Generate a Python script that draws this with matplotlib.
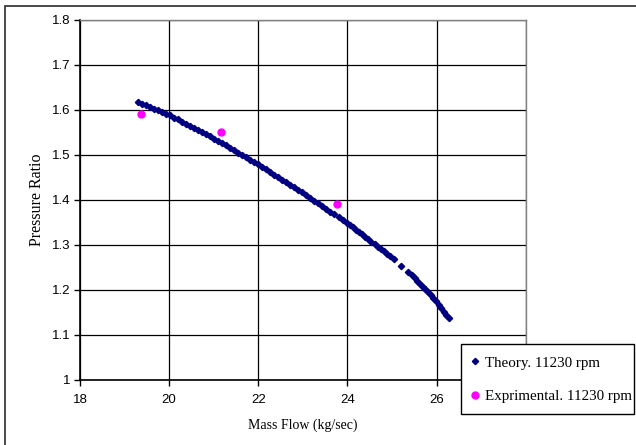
import matplotlib
matplotlib.use("Agg")
import matplotlib.pyplot as plt
from matplotlib.patches import Rectangle

# ---- data ----
theory_x = [19.30, 19.39, 19.48, 19.57, 19.66, 19.75, 19.84, 19.93,
            20.02, 20.11, 20.20, 20.29, 20.38, 20.47, 20.56, 20.65, 20.74, 20.83, 20.92,
            21.01, 21.10, 21.19, 21.28, 21.37, 21.46, 21.55, 21.64, 21.73, 21.82, 21.91,
            22.00, 22.09, 22.18, 22.27, 22.36, 22.45, 22.54, 22.63, 22.72, 22.81, 22.90, 22.99,
            23.08, 23.17, 23.26, 23.35, 23.44, 23.53, 23.62, 23.71, 23.80, 23.89, 23.98,
            24.05, 24.12, 24.19, 24.26, 24.33, 24.40, 24.47, 24.54, 24.61, 24.68, 24.75,
            24.82, 24.89, 24.96, 25.04, 25.21, 25.37,
            25.45, 25.51, 25.57, 25.63, 25.69, 25.75, 25.81, 25.87, 25.93, 25.99,
            26.05, 26.11, 26.17, 26.22, 26.27]
theory_y = [1.618, 1.614, 1.610, 1.607, 1.603, 1.599, 1.595, 1.592,
            1.588, 1.583, 1.579, 1.574, 1.569, 1.565, 1.560, 1.555, 1.551, 1.546, 1.541,
            1.536, 1.531, 1.526, 1.521, 1.516, 1.510, 1.505, 1.500, 1.495, 1.489, 1.484,
            1.479, 1.473, 1.468, 1.462, 1.456, 1.451, 1.445, 1.439, 1.434, 1.428, 1.422, 1.417,
            1.411, 1.404, 1.398, 1.392, 1.386, 1.380, 1.374, 1.368, 1.362, 1.355, 1.349,
            1.344, 1.339, 1.334, 1.328, 1.323, 1.318, 1.312, 1.307, 1.302, 1.296, 1.291,
            1.286, 1.280, 1.275, 1.268, 1.253, 1.239,
            1.232, 1.226, 1.220, 1.213, 1.207, 1.201, 1.194, 1.188, 1.182, 1.175,
            1.167, 1.159, 1.150, 1.143, 1.137]

exp_x = [19.37, 21.17, 23.76]
exp_y = [1.590, 1.551, 1.391]

x_ticks = [18, 20, 22, 24, 26, 28]
x_ticklabels = ['18', '20', '22', '24', '26', '']
y_ticks = [1.0, 1.1, 1.2, 1.3, 1.4, 1.5, 1.6, 1.7, 1.8]
y_ticklabels = ['1', '1.1', '1.2', '1.3', '1.4', '1.5', '1.6', '1.7', '1.8']

theory_label = 'Theory. 11230 rpm'
exp_label = 'Exprimental. 11230 rpm'
x_label = 'Mass Flow (kg/sec)'
y_label = 'Pressure Ratio'

# ---- figure ----
W, H = 636, 445
fig = plt.figure(figsize=(W / 100, H / 100), dpi=100)
fig.patch.set_facecolor('white')

# outer chart frame
fig.patches.append(Rectangle((5 / W, -0.2), 1.5, 1 - 6 / H + 0.2,
                             transform=fig.transFigure, fill=False,
                             edgecolor='#3a3a3a', lw=1.3, zorder=0))

left, right, top, bottom = 80, 525.7, 20, 379.7
ax = fig.add_axes([left / W, 1 - bottom / H, (right - left) / W, (bottom - top) / H])

ax.set_xlim(18, 28)
ax.set_ylim(1.0, 1.8)
ax.set_xticks(x_ticks)
ax.set_xticklabels(x_ticklabels, fontfamily='Liberation Sans', fontsize=9.5)
ax.set_yticks(y_ticks)
ax.set_yticklabels(y_ticklabels, fontfamily='Liberation Sans', fontsize=9.5)
ax.tick_params(axis='both', direction='out', length=4, width=1, color='black')
ax.tick_params(axis='x', pad=6)
ax.tick_params(axis='y', pad=3)

ax.grid(True, color='black', lw=0.9)
ax.set_axisbelow(True)

for s in ['left', 'bottom']:
    ax.spines[s].set_color('black')
    ax.spines[s].set_linewidth(1.2)
for s in ['top', 'right']:
    ax.spines[s].set_color('#808080')
    ax.spines[s].set_linewidth(1.0)

ax.plot(theory_x, theory_y, linestyle='none', marker='D', markersize=3.2,
        color='#000080', label=theory_label, zorder=3)
ax.plot(exp_x, exp_y, linestyle='none', marker='o', markersize=5.0,
        color='#FF00FF', label=exp_label, zorder=3)

ax.set_xlabel(x_label, fontfamily='Liberation Serif', fontsize=10, labelpad=9)
ax.set_ylabel(y_label, fontfamily='Liberation Serif', fontsize=11.5, labelpad=5)

# legend box (drawn at exact position) + legend content without its own frame
box = Rectangle((460.7 / W, 1 - 413.7 / H), (633.7 - 460.7) / W, (413.7 - 344) / H,
                transform=fig.transFigure, facecolor='white', edgecolor='black',
                lw=1.0, zorder=9)
fig.patches.append(box)

leg = fig.legend(handles=ax.get_lines(), labels=[theory_label, exp_label],
                 loc='upper left', bbox_to_anchor=(470.5 / W, 1 - 356.0 / H),
                 bbox_transform=fig.transFigure, borderaxespad=0, borderpad=0,
                 prop={'family': 'Liberation Serif', 'size': 10.8},
                 frameon=False, handlelength=0.6, handletextpad=0.37,
                 labelspacing=1.36)
leg.set_zorder(10)

fig.savefig('out.png', dpi=100)
